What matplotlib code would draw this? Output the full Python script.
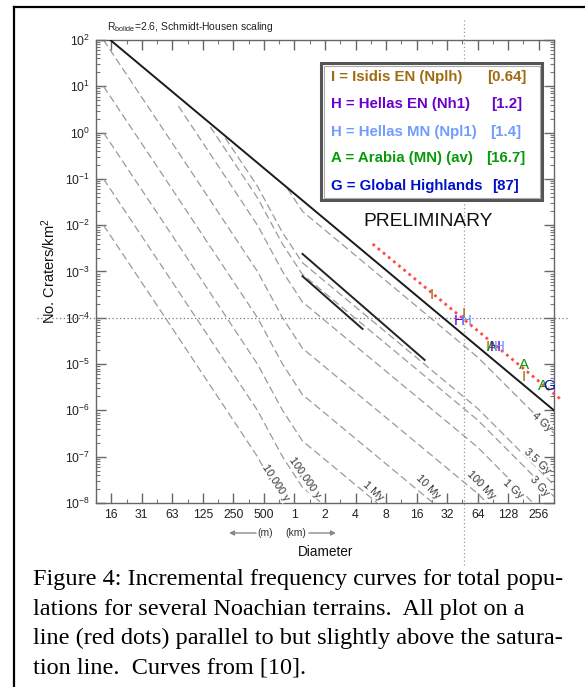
import matplotlib
matplotlib.use('Agg')
import matplotlib.pyplot as plt
from matplotlib.patches import Rectangle
from matplotlib.lines import Line2D
from matplotlib.ticker import FixedLocator, FixedFormatter, LogLocator, NullFormatter

W, H = 585, 687

# isochrons, diameter (km) vs. incremental craters per km^2
D_young = [0.0131, 0.0533, 0.432, 0.763, 1.197, 64, 362]
N_10ky = [1e-2, 1e-4, 1e-7, 1e-8, 2.2e-9, 1.6e-12, 3.5e-14]
N_100ky = [1e-1, 1e-3, 1e-6, 1e-7, 2.2e-8, 1.6e-11, 3.5e-13]
N_1my = [1, 1e-2, 1e-5, 1e-6, 2.2e-7, 1.6e-10, 3.5e-12]
N_10my = [10, 1e-1, 1e-4, 1e-5, 2.2e-6, 1.6e-9, 3.5e-11]
N_100my = [100, 1, 1e-3, 1e-4, 2.2e-5, 1.6e-8, 3.5e-10]
D_1gy = [0.0718, 0.432, 0.763, 1.197, 64, 362]
N_1gy = [3.74, 1e-2, 1e-3, 2.2e-4, 1.6e-7, 3.5e-9]
D_3gy = [0.148, 0.432, 0.763, 1.197, 64, 362]
N_3gy = [1.33, 0.0389, 3.9e-3, 8.7e-4, 6.2e-7, 1.38e-8]
D_35gy = [0.208, 0.432, 0.763, 1.197, 64, 362]
N_35gy = [0.77, 0.069, 6.9e-3, 1.55e-3, 1.1e-6, 2.45e-8]
D_4gy = [0.853, 1.197, 64, 362]
N_4gy = [0.062, 0.020, 1.41e-5, 3.2e-7]

iso_labels = ['10,000 y', '100,000 y', '1 My', '10 My', '100 My', '1 Gy', '3 Gy', '3.5 Gy', '4 Gy']
iso_label_D = [0.649, 1.26, 6.0, 20.5, 68.5, 142, 262, 250, 274]
iso_label_N = [2.7e-8, 3.6e-8, 1.8e-8, 2.2e-8, 2.4e-8, 2.0e-8, 2.3e-8, 8.1e-8, 5.6e-7]
iso_label_rot = [-57, -55, -42, -45, -45, -42, -48, -43, -42]

# saturation line and fitted line of the Noachian data
sat_D = [0.0153, 362]
sat_N = [100, 1e-6]
fit_D = [5.9, 441]
fit_N = [3.93e-3, 1.6e-6]

# two solid data curves
curveA_D = [1.2, 19.2]
curveA_N = [2.4e-3, 1.23e-5]
curveB_D = [1.2, 4.69]
curveB_N = [7.9e-4, 5.75e-5]

# reference dotted lines
ref_N = 1e-4
ref_D = 46.5

# terrain data points drawn as letters
pt_letter = ['I', 'I', 'H', 'H', 'I', 'A', 'H', 'H', 'A', 'I', 'A', 'G']
pt_D = [22.5, 46.6, 42.5, 49.8, 80.3, 88.0, 96.4, 105.5, 182, 182, 280, 321]
pt_N = [3.1e-4, 1.2e-4, 8.5e-5, 8.5e-5, 2.3e-5, 2.3e-5, 2.3e-5, 2.3e-5, 9.5e-6, 5.3e-6, 3.4e-6, 3.4e-6]
c_I, c_H1, c_H2, c_A, c_G = '#a06a10', '#6a00cc', '#6f9cff', '#089a08', '#0010c8'
pt_color = [c_I, c_I, c_H1, c_H2, c_I, c_A, c_H1, c_H2, c_A, c_I, c_A, c_G]

legend_text = ['I = Isidis EN (Nplh)', 'H = Hellas EN (Nh1)', 'H = Hellas MN (Npl1)',
               'A = Arabia (MN) (av)', 'G = Global Highlands']
legend_value = ['[0.64]', '[1.2]', '[1.4]', '[16.7]', '[87]']
legend_color = [c_I, c_H1, c_H2, c_A, c_G]

x_tick_exp = list(range(-6, 9))
x_tick_lab = ['16', '31', '63', '125', '250', '500', '1', '2', '4', '8', '16', '32', '64', '128', '256']

caption = ['Figure 4: Incremental frequency curves for total popu-',
           'lations for several Noachian terrains.  All plot on a',
           'line (red dots) parallel to but slightly above the satura-',
           'tion line.  Curves from [10].']

plt.rcParams['font.family'] = ['Liberation Sans', 'DejaVu Sans']
plt.rcParams['mathtext.fontset'] = 'custom'
plt.rcParams['mathtext.rm'] = 'Liberation Sans'
plt.rcParams['mathtext.it'] = 'Liberation Sans:italic'
plt.rcParams['mathtext.bf'] = 'Liberation Sans:bold'


def fx(px):
    return px / W


def fy(py):
    return 1 - py / H


fig = plt.figure(figsize=(W / 100, H / 100), dpi=100)
ax = fig.add_axes([fx(96), fy(503), fx(554) - fx(96), fy(40) - fy(503)])
ax.set_xscale('log', base=2)
ax.set_yscale('log')
ax.set_xlim(2 ** -6.5, 2 ** 8.5)
ax.set_ylim(1e-8, 1e2)

dash = dict(color='#9a9a9a', lw=0.9, dashes=(6, 3))
young = [N_10ky, N_100ky, N_1my, N_10my, N_100my]
for N in young:
    ax.plot(D_young, N, **dash)
for D, N in [(D_1gy, N_1gy), (D_3gy, N_3gy), (D_35gy, N_35gy), (D_4gy, N_4gy)]:
    ax.plot(D, N, **dash)

for lab, d, n, r in zip(iso_labels, iso_label_D, iso_label_N, iso_label_rot):
    ax.text(d, n, lab, rotation=r, fontsize=7.8, color='#333333', ha='center', va='center',
            rotation_mode='anchor', zorder=4,
            bbox=dict(boxstyle='square,pad=0.05', fc='white', ec='none'))

ax.plot(sat_D, sat_N, color='#1a1a1a', lw=1.4, zorder=5)
ax.plot(curveA_D, curveA_N, color='#222222', lw=1.4, zorder=5)
ax.plot(curveB_D, curveB_N, color='#222222', lw=1.4, zorder=5)
ax.plot(fit_D, fit_N, color='#ff4a4a', lw=2.0, ls=(0, (1, 1.4)), clip_on=False, zorder=6)

ax.plot([0.0029, 505], [ref_N, ref_N], color='#777777', lw=0.9, ls=(0, (1, 2)), clip_on=False, zorder=3)
ax.plot([ref_D, ref_D], [270, 4.6e-10], color='#999999', lw=0.9, ls=(0, (1, 2)), clip_on=False, zorder=3)

for t, d, n, c in zip(pt_letter, pt_D, pt_N, pt_color):
    ax.text(d, n, t, color=c, fontsize=11, ha='center', va='center', zorder=7)

# axes styling
for s in ax.spines.values():
    s.set_color('#666666')
    s.set_linewidth(1.0)
ax.xaxis.set_major_locator(FixedLocator([2.0 ** k for k in x_tick_exp]))
ax.xaxis.set_major_formatter(FixedFormatter(x_tick_lab))
ax.xaxis.set_minor_locator(FixedLocator([2.0 ** (k + 0.5) for k in range(-7, 9)]))
ax.xaxis.set_minor_formatter(NullFormatter())
ax.yaxis.set_minor_locator(LogLocator(base=10, subs=[2, 3, 4, 5, 6, 7, 8, 9], numticks=20))
ax.yaxis.set_minor_formatter(NullFormatter())
yt = [10.0 ** k for k in range(-8, 3)]
ax.set_yticks(yt)
ax.set_yticklabels([r'$10^{%d}$' % k for k in range(-8, 3)])
ax.tick_params(which='major', direction='in', length=7, width=1, color='#666666',
               top=True, right=True, labelsize=8.8, labelcolor='#222222', pad=4)
ax.tick_params(which='minor', direction='in', length=3, width=0.8, color='#777777',
               top=True, right=True)

ax.set_ylabel('No. Craters/km$^2$', fontsize=10.5, labelpad=5, color='#111111')
fig.text(fx(326), fy(552), 'Diameter', fontsize=9.8, ha='center', va='center', color='#111111')
fig.text(fx(190), fy(27), r'R$_{\mathrm{bolide}}$=2.6, Schmidt-Housen scaling', fontsize=7.5,
         ha='center', va='center', color='#222222')
fig.text(fx(265), fy(533), '(m)', fontsize=7.5, ha='center', va='center', color='#333333')
fig.text(fx(296), fy(533), '(km)', fontsize=7.5, ha='center', va='center', color='#333333')
arrow = dict(arrowstyle='-|>', color='#888888', lw=1.0, mutation_scale=7, shrinkA=0, shrinkB=0)
ax.annotate('', xy=(fx(229), fy(533)), xytext=(fx(256), fy(533)), xycoords='figure fraction',
            textcoords='figure fraction', arrowprops=arrow)
ax.annotate('', xy=(fx(336), fy(533)), xytext=(fx(309), fy(533)), xycoords='figure fraction',
            textcoords='figure fraction', arrowprops=arrow)

fig.text(fx(428), fy(222), 'PRELIMINARY', fontsize=13.8, ha='center', va='center', color='#111111')

# legend box
fig.add_artist(Rectangle((fx(321), fy(200)), fx(542) - fx(321), fy(63) - fy(200),
                         transform=fig.transFigure, fc='white', ec='#555555', lw=2.2, zorder=8))
fig.add_artist(Rectangle((fx(323.5), fy(197.5)), fx(539.5) - fx(323.5), fy(65.5) - fy(197.5),
                         transform=fig.transFigure, fc='none', ec='#aaaaaa', lw=0.8, zorder=8))
rows_y = [77, 104, 132, 158, 186]
vals_x = [527, 522, 521, 525, 519]
for t, v, c, y, vx in zip(legend_text, legend_value, legend_color, rows_y, vals_x):
    fig.text(fx(331), fy(y), t, color=c, fontsize=10.8, fontweight='bold', ha='left', va='center', zorder=9)
    fig.text(fx(vx), fy(y), v, color=c, fontsize=10.8, fontweight='bold', ha='right', va='center', zorder=9)

# caption
for i, line in enumerate(caption):
    fig.text(fx(33), fy(580 + 29.3 * i), line, family='Liberation Serif', fontsize=17.5,
             ha='left', va='center', color='black')

# frame around the figure
fig.add_artist(Line2D([fx(14), 1], [fy(7), fy(7)], color='black', lw=1.6, transform=fig.transFigure))
fig.add_artist(Line2D([fx(14), fx(14)], [fy(7), 0], color='black', lw=1.6, transform=fig.transFigure))

fig.savefig('out.png', dpi=100)
